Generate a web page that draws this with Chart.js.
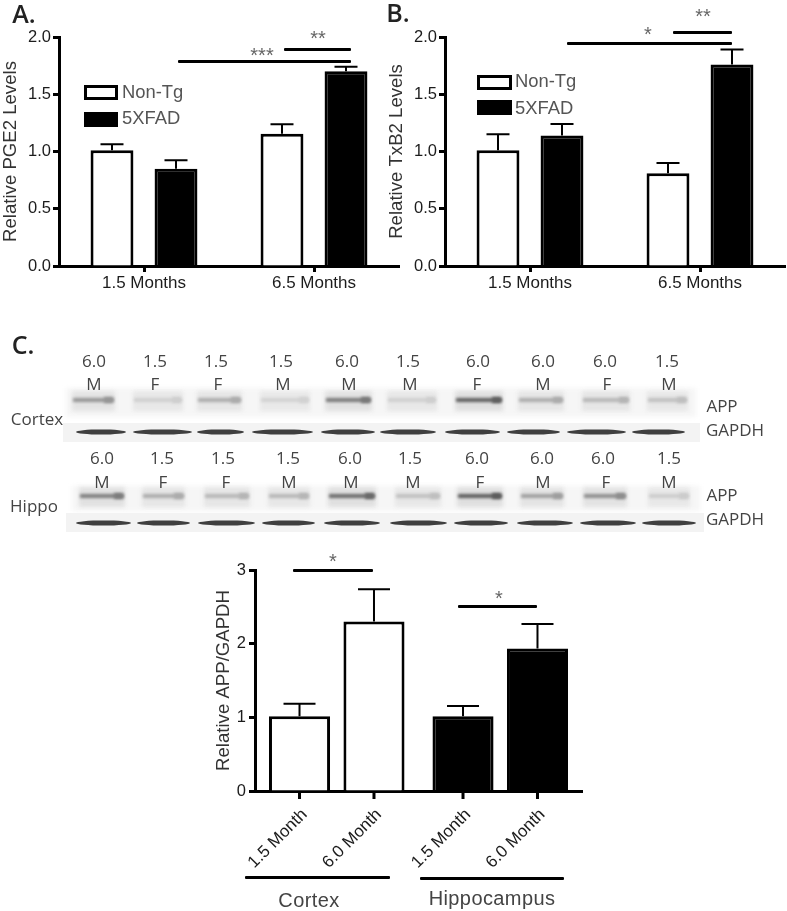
<!DOCTYPE html>
<html>
<head>
<meta charset="utf-8">
<title>PGE2, TxB2 and APP levels</title>
<script src="https://cdn.jsdelivr.net/npm/chart.js@4"></script>
<style>
	html, body { margin: 0; background: #fff; }
	#page { position: relative; width: 787px; height: 911px; overflow: hidden; filter: blur(0.4px); }
	#page canvas { position: absolute; }
	.txt { position: absolute; white-space: nowrap; line-height: 1; transform: translate(-50%, -50%); }
	.blot { font: 17px "Open Sans", sans-serif; color: #444; }
	.panel { font: 600 25px "Open Sans", sans-serif; color: #222; }
	.legend { font: 18.4px "Liberation Sans", sans-serif; color: #555; transform: translate(0, -50%); }
	.star { font: 20px "Liberation Sans", sans-serif; color: #666; }
	.group { font: 20px "Liberation Sans", sans-serif; color: #444; letter-spacing: 0.4px; }
	.bar { position: absolute; background: #000; border-radius: 1px; }
	.swatch { position: absolute; box-sizing: border-box; border: 3px solid #000; }
</style>
</head>
<body>
<div id="page">
	<canvas id="blots" width="787" height="911" style="left:0;top:0"></canvas>
	<canvas id="chart-a" width="402" height="300" style="left:0;top:0"></canvas>
	<canvas id="chart-b" width="402" height="300" style="left:386px;top:0"></canvas>
	<canvas id="chart-c" width="372" height="350" style="left:213px;top:540px"></canvas>
</div>
<script>
// Panel A and B
const months = ["1.5 Months", "6.5 Months"];
const pgeNonTg = [1.01, 1.155];
const pgeNonTgErr = [0.053, 0.082];
const pge5xfad = [0.85, 1.7];
const pge5xfadErr = [0.073, 0.04];
const txbNonTg = [1.01, 0.81];
const txbNonTgErr = [0.14, 0.09];
const txb5xfad = [1.14, 1.76];
const txb5xfadErr = [0.1, 0.13];

// Panel C
const regions = ["Cortex", "Hippocampus"];
const ageLabels = ["1.5 Month", "6.0 Month"];
const appYoung = [1.015, 1.015];
const appYoungErr = [0.17, 0.139];
const appOld = [2.3, 1.935];
const appOldErr = [0.44, 0.332];
const regionColors = ["#fff", "#000"];

// Western blot labels, one entry per lane
const cortexAges = ["6.0", "1.5", "1.5", "1.5", "6.0", "1.5", "6.0", "6.0", "6.0", "1.5"];
const cortexSex = ["M", "F", "F", "M", "M", "M", "F", "M", "F", "M"];
const hippoAges = ["6.0", "1.5", "1.5", "1.5", "6.0", "1.5", "6.0", "6.0", "6.0", "1.5"];
const hippoSex = ["M", "F", "F", "M", "M", "M", "F", "M", "F", "M"];
const cortexAgeX = [94, 155, 216, 281, 347, 408, 478, 543, 605, 667];
const cortexSexX = [94, 155, 218, 283, 349, 410, 477, 543, 607, 669];
const hippoAgeX = [102, 162, 223, 288, 350, 410, 477, 542, 603, 669];
const hippoSexX = [102, 163, 226, 289, 351, 413, 480, 543, 606, 669];

// Band darkness per lane, judged by eye
const cortexAppDark = [0.55, 0.2, 0.42, 0.18, 0.72, 0.2, 0.88, 0.42, 0.36, 0.3];
const hippoAppDark = [0.7, 0.42, 0.36, 0.35, 0.82, 0.3, 0.9, 0.5, 0.6, 0.22];

// Band extents [left, right] per lane
const cortexAppLanes = [[72, 115], [133, 183], [197, 242], [260, 310], [325, 372], [387, 437], [455, 503], [518, 564], [582, 630], [647, 688]];
const cortexGapdhLanes = [[76, 126], [133, 192], [197, 244], [252, 313], [321, 375], [380, 436], [445, 500], [507, 560], [567, 626], [632, 685]];
const hippoAppLanes = [[79, 125], [142, 185], [204, 250], [268, 310], [328, 376], [395, 441], [457, 503], [520, 564], [583, 627], [648, 690]];
const hippoGapdhLanes = [[76, 131], [137, 190], [198, 255], [262, 315], [324, 380], [390, 447], [454, 508], [517, 573], [580, 636], [642, 696]];

const axisFont = { family: "'Liberation Sans', sans-serif", size: 16.5 };
const titleFont = { family: "'Liberation Sans', sans-serif", size: 18.6 };
const inkColor = "#1c1c1c";

const page = document.getElementById("page");

// Error bars go up from the top of each bar, cap width comes from the chart options
const errorBarsPlugin = {
	id: "errorBars",
	afterDatasetsDraw(chart, args, opts) {
		const ctx = chart.ctx;
		const yScale = chart.scales.y;
		ctx.save();
		ctx.strokeStyle = "#000";
		ctx.lineWidth = 2;
		chart.data.datasets.forEach((ds, i) => {
			chart.getDatasetMeta(i).data.forEach((bar, j) => {
				const top = yScale.getPixelForValue(ds.data[j] + ds.errors[j]);
				const base = yScale.getPixelForValue(ds.data[j]);
				ctx.beginPath();
				ctx.moveTo(bar.x, base);
				ctx.lineTo(bar.x, top);
				ctx.moveTo(bar.x - opts.capWidth / 2, top);
				ctx.lineTo(bar.x + opts.capWidth / 2, top);
				ctx.stroke();
			});
		});
		ctx.restore();
	},
};

// Panel C has a tick and a slanted label under every bar, not under every group
const barLabelsPlugin = {
	id: "barLabels",
	afterDraw(chart) {
		if (!chart.options.plugins.barLabels.show) return;
		const ctx = chart.ctx;
		const axisY = chart.scales.y.getPixelForValue(0);
		ctx.save();
		chart.data.datasets.forEach((ds, i) => {
			chart.getDatasetMeta(i).data.forEach((bar) => {
				ctx.fillStyle = "#000";
				ctx.fillRect(bar.x - 1.5, axisY, 3, 8);
				ctx.save();
				ctx.translate(bar.x + 5, axisY + 21);
				ctx.rotate(-Math.PI / 4);
				ctx.font = "17px 'Liberation Sans', sans-serif";
				ctx.fillStyle = inkColor;
				ctx.textAlign = "right";
				ctx.textBaseline = "middle";
				ctx.fillText(ds.label, 0, 0);
				ctx.restore();
			});
		});
		ctx.restore();
	},
};

function yAxis(max, step, title, width, decimals, tickPad) {
	return {
		min: 0,
		max: max,
		afterFit(scale) {
			scale.width = width;
		},
		grid: { drawOnChartArea: false, tickLength: 6, tickWidth: 3, tickColor: "#000" },
		border: { color: "#000", width: 3 },
		ticks: {
			stepSize: step,
			padding: tickPad,
			color: inkColor,
			font: axisFont,
			callback: (v) => v.toFixed(decimals),
		},
		title: { display: true, text: title, color: "#333", font: titleFont, padding: 0 },
	};
}

function groupedChart(id, labels, datasets, yOpts, xHeight, padTop, capWidth, showTicks, barLabels) {
	return new Chart(document.getElementById(id), {
		type: "bar",
		data: { labels: labels, datasets: datasets },
		plugins: [errorBarsPlugin, barLabelsPlugin],
		options: {
			responsive: false,
			animation: false,
			layout: { padding: { top: padTop, right: 3 } },
			plugins: {
				legend: { display: false },
				tooltip: { enabled: false },
				errorBars: { capWidth: capWidth },
				barLabels: { show: barLabels },
			},
			scales: {
				x: {
					afterFit(scale) {
						scale.height = xHeight;
					},
					grid: { offset: false, drawOnChartArea: false, drawTicks: showTicks, tickLength: 6, tickWidth: 3, tickColor: "#000" },
					border: { color: "#000", width: 3 },
					ticks: { display: showTicks, padding: 1, color: inkColor, font: { family: axisFont.family, size: 17 } },
				},
				y: yOpts,
			},
		},
	});
}

function pair(label, values, errors, color, catPct, barPct) {
	return {
		label: label,
		data: values,
		errors: errors,
		backgroundColor: color,
		borderColor: "#000",
		borderWidth: 3,
		categoryPercentage: catPct,
		barPercentage: barPct,
	};
}

groupedChart("chart-a", months, [
	pair("Non-Tg", pgeNonTg, pgeNonTgErr, "#fff", 0.753, 0.67),
	pair("5XFAD", pge5xfad, pge5xfadErr, "#000", 0.753, 0.67),
], yAxis(2, 0.5, "Relative PGE2 Levels", 59, 1, 2), 34, 37, 23, true, false);

groupedChart("chart-b", months, [
	pair("Non-Tg", txbNonTg, txbNonTgErr, "#fff", 0.753, 0.67),
	pair("5XFAD", txb5xfad, txb5xfadErr, "#000", 0.753, 0.67),
], yAxis(2, 0.5, "Relative TxB2 Levels", 59, 1, 2), 34, 37, 23, true, false);

groupedChart("chart-c", regions, [
	pair(ageLabels[0], appYoung, appYoungErr, regionColors, 0.911, 0.82),
	pair(ageLabels[1], appOld, appOldErr, regionColors, 0.911, 0.82),
], yAxis(3, 1, "Relative APP/GAPDH", 42, 0, 3), 99, 30, 32, false, true);

// Text and rules that sit on top of the charts
function addText(cls, text, x, y) {
	const el = document.createElement("div");
	el.className = "txt " + cls;
	el.textContent = text;
	el.style.left = x + "px";
	el.style.top = y + "px";
	page.appendChild(el);
}

function addRule(x0, x1, y) {
	const el = document.createElement("div");
	el.className = "bar";
	el.style.left = x0 + "px";
	el.style.width = x1 - x0 + "px";
	el.style.top = Math.round(y) - 1 + "px";
	el.style.height = "3px";
	page.appendChild(el);
}

function addSwatch(x, y, w, h, color) {
	const el = document.createElement("div");
	el.className = "swatch";
	el.style.cssText = `left:${x}px;top:${y}px;width:${w}px;height:${h}px;background:${color}`;
	page.appendChild(el);
}

addText("panel", "A.", 24, 13);
addText("panel", "B.", 398, 12);
addText("panel", "C.", 23, 344);

addSwatch(84, 85, 34, 15, "#fff");
addSwatch(84, 112, 34, 15, "#000");
addText("legend", "Non-Tg", 122, 92);
addText("legend", "5XFAD", 122, 118);
addSwatch(477, 75, 35, 15, "#fff");
addSwatch(477, 100, 35, 15, "#000");
addText("legend", "Non-Tg", 515, 81);
addText("legend", "5XFAD", 515, 108);

addRule(284, 351, 48.5);
addRule(178, 351, 61);
addText("star", "**", 318, 38);
addText("star", "***", 262, 55);
addRule(673, 732, 31.5);
addRule(567, 732, 42.5);
addText("star", "*", 648, 34);
addText("star", "**", 703, 16);
addRule(293, 373, 570);
addText("star", "*", 333, 561);
addRule(458, 537, 606);
addText("star", "*", 499, 598);

addRule(245, 390, 877);
addRule(420, 564, 878);
addText("group", "Cortex", 309, 900);
addText("group", "Hippocampus", 492, 898);

cortexAges.forEach((t, i) => addText("blot", t, cortexAgeX[i], 360));
cortexSex.forEach((t, i) => addText("blot", t, cortexSexX[i], 383));
hippoAges.forEach((t, i) => addText("blot", t, hippoAgeX[i], 457));
hippoSex.forEach((t, i) => addText("blot", t, hippoSexX[i], 481));
addText("blot", "Cortex", 37, 418);
addText("blot", "Hippo", 34, 505);
addText("blot", "APP", 722, 405);
addText("blot", "GAPDH", 735, 429);
addText("blot", "APP", 722, 494);
addText("blot", "GAPDH", 735, 518);

// Blot photographs, painted by hand since they are not chart data
const blotCtx = document.getElementById("blots").getContext("2d");

function appBand(lane, y, dark) {
	const [x0, x1] = lane;
	const shade = Math.round(240 - dark * 165);
	// pale smear around the band
	blotCtx.filter = "blur(2px)";
	blotCtx.fillStyle = "rgba(215, 215, 215, " + (0.35 + dark * 0.45) + ")";
	blotCtx.fillRect(x0, y - 9, x1 - x0, 20);
	// darker core, heavier at the lane edges
	blotCtx.filter = "blur(1.4px)";
	blotCtx.fillStyle = `rgb(${shade}, ${shade}, ${shade})`;
	blotCtx.fillRect(x0 + 1, y - 2, x1 - x0 - 2, 4);
	blotCtx.fillRect(x1 - 11, y - 3, 9, 6);
}

function gapdhBand(lane, y) {
	const [x0, x1] = lane;
	blotCtx.filter = "blur(0.7px)";
	blotCtx.fillStyle = "#3f3f3f";
	blotCtx.beginPath();
	blotCtx.ellipse((x0 + x1) / 2, y, (x1 - x0) / 2, 2.6, 0, 0, Math.PI * 2);
	blotCtx.fill();
}

blotCtx.filter = "blur(2px)";
blotCtx.fillStyle = "#f6f6f6";
blotCtx.fillRect(66, 388, 630, 29);
blotCtx.fillRect(72, 486, 628, 25);
blotCtx.filter = "none";
blotCtx.fillStyle = "#f3f3f3";
blotCtx.fillRect(63, 423, 637, 19);
blotCtx.fillRect(66, 513, 638, 19);

cortexAppLanes.forEach((lane, i) => appBand(lane, 400, cortexAppDark[i]));
hippoAppLanes.forEach((lane, i) => appBand(lane, 496, hippoAppDark[i]));
cortexGapdhLanes.forEach((lane) => gapdhBand(lane, 432));
hippoGapdhLanes.forEach((lane) => gapdhBand(lane, 523));
</script>
</body>
</html>
